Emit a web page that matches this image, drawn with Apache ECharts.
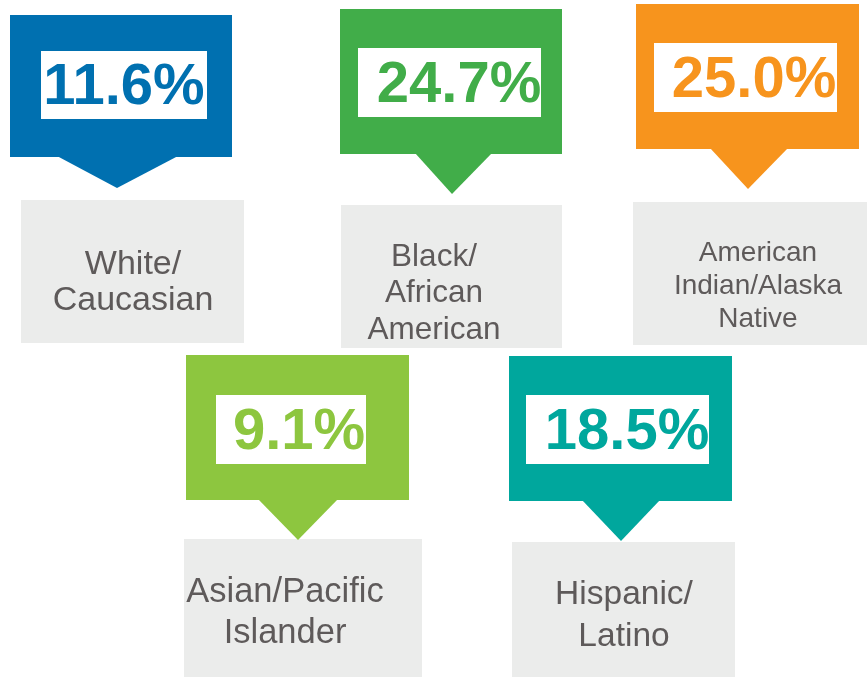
<!DOCTYPE html>
<html>
<head>
<meta charset="utf-8">
<script src="https://cdn.jsdelivr.net/npm/echarts@6/dist/echarts.min.js"></script>
<style>
  html, body { margin: 0; padding: 0; background: #fff; }
  #container { width: 867px; height: 678px; }
</style>
</head>
<body>
<div id="container"></div>
<script>
// rates by race / ethnicity
var categories = [
	'White/\nCaucasian',
	'Black/\nAfrican\nAmerican',
	'American\nIndian/Alaska\nNative',
	'Asian/Pacific\nIslander',
	'Hispanic/\nLatino'
];
var rates = [11.6, 24.7, 25.0, 9.1, 18.5];
var colors = ['#0070B0', '#41AD49', '#F7941D', '#8DC63F', '#00A79D'];

// where each callout sits on the page (px)
var layout = [
	{ box: [10, 15, 222, 142], arrow: [57, 178, 117, 188], white: [41, 51, 166, 68], num: [124, 88],
		gray: [21, 200, 223, 143], lab: [133, 283], lh: 36, fs: 34 },
	{ box: [340, 9, 222, 145], arrow: [415, 492, 452, 194], white: [358, 48, 183, 69], num: [459, 86],
		gray: [341, 205, 221, 143], lab: [434, 293.5], lh: 36.5, fs: 31.5 },
	{ box: [636, 4, 223, 145], arrow: [710, 788, 748, 189], white: [654, 43, 183, 69], num: [754, 81],
		gray: [633, 202, 234, 143], lab: [758, 286], lh: 33, fs: 28 },
	{ box: [186, 355, 223, 145], arrow: [258, 338, 298, 540], white: [216, 395, 150, 69], num: [299, 433],
		gray: [184, 539, 238, 138], lab: [285, 612.5], lh: 41, fs: 34.5 },
	{ box: [509, 356, 223, 145], arrow: [582, 660, 621, 541], white: [526, 395, 183, 69], num: [627, 433],
		gray: [512, 542, 223, 135], lab: [624, 616], lh: 42, fs: 33.5 }
];

var myChart = echarts.init(document.getElementById('container'));

function rect(api, r, fill) {
	var p = api.coord([r[0], r[1]]);
	var s = api.size([r[2], r[3]]);
	return { type: 'rect', shape: { x: p[0], y: p[1], width: s[0], height: s[1] }, style: { fill: fill } };
}

function renderItem(params, api) {
	var i = params.dataIndex;
	var L = layout[i];
	var color = colors[i];
	var b = L.box, a = L.arrow;
	var bottom = b[1] + b[3];
	var pts = [[a[0], bottom - 1], [a[1], bottom - 1], [a[2], a[3]]].map(function (q) {
		return api.coord(q);
	});
	var num = api.coord(L.num);
	var lab = api.coord(L.lab);
	return {
		type: 'group',
		children: [
			rect(api, L.gray, '#EBECEB'),
			rect(api, b, color),
			{ type: 'polygon', shape: { points: pts }, style: { fill: color } },
			rect(api, L.white, '#FFFFFF'),
			{
				type: 'text',
				style: {
					text: api.value(1).toFixed(1) + '%',
					x: num[0], y: num[1],
					align: 'center', verticalAlign: 'middle',
					fill: color,
					font: 'bold 58px "Liberation Sans", Arial, sans-serif'
				}
			},
			{
				type: 'text',
				style: {
					text: categories[i],
					x: lab[0], y: lab[1],
					align: 'center', verticalAlign: 'middle',
					lineHeight: L.lh,
					fill: '#5E5A5A',
					font: L.fs + 'px "Liberation Sans", Arial, sans-serif'
				}
			}
		]
	};
}

option = {
	animation: false,
	grid: { left: 0, right: 0, top: 0, bottom: 0 },
	xAxis: { type: 'value', min: 0, max: 867, show: false },
	yAxis: { type: 'value', min: 0, max: 678, inverse: true, show: false },
	series: [{
		type: 'custom',
		renderItem: renderItem,
		data: rates.map(function (v, idx) {
			return [idx, v];
		})
	}]
};

myChart.setOption(option);
</script>
</body>
</html>
